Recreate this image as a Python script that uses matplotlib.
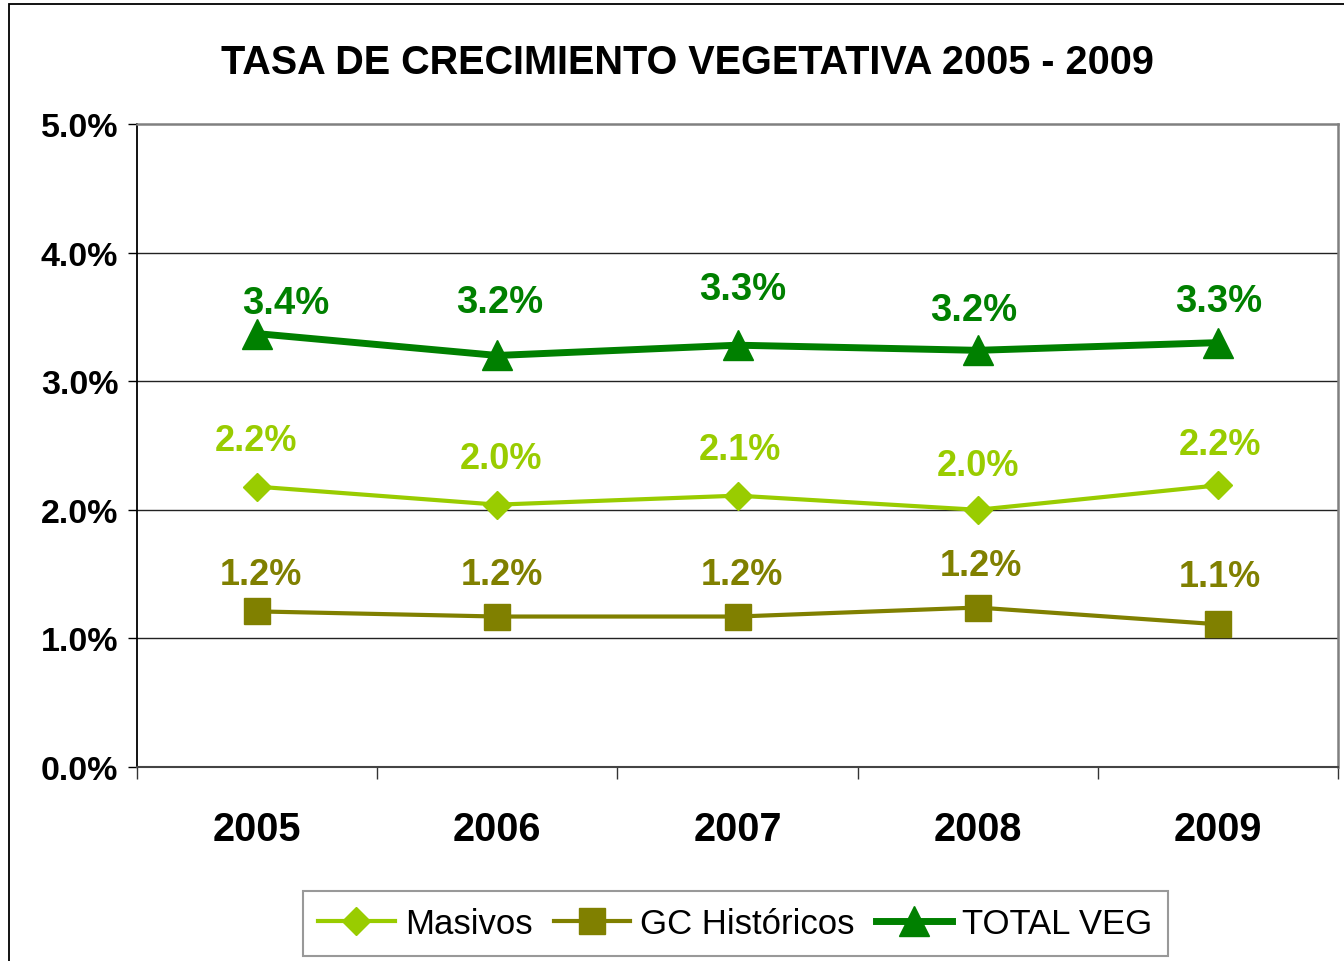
import numpy as np
import matplotlib
matplotlib.use('Agg')
import matplotlib.pyplot as plt
from matplotlib.patches import Rectangle
from matplotlib.ticker import FixedLocator

plt.rcParams['font.family'] = ['Liberation Sans', 'DejaVu Sans']

# data (percent)
years = ['2005', '2006', '2007', '2008', '2009']
masivos = [2.18, 2.04, 2.11, 2.00, 2.19]
gc_historicos = [1.21, 1.17, 1.17, 1.24, 1.11]
total_veg = [3.37, 3.20, 3.28, 3.24, 3.30]

# label offsets in pixels (dx, dy), as placed in the original
off_masivos = [(-1, 46), (4, 46), (2, 46), (0, 44), (2, 41)]
off_gc = [(4, 37), (5, 42), (4, 42), (3, 42), (2, 48)]
off_total = [(29, 31), (2, 53), (5, 56), (-4, 40), (1, 42)]

c_masivos = '#99CC00'
c_gc = '#808000'
c_total = '#008000'

fig = plt.figure(figsize=(13.44, 9.62), dpi=100)
ax = fig.add_axes([137/1344, 1 - 768/962, (1338-137)/1344, (768-125)/962])

x = np.arange(len(years))
ax.plot(x, masivos, color=c_masivos, lw=3, marker='D', ms=14, label='Masivos')
ax.plot(x, gc_historicos, color=c_gc, lw=3, marker='s', ms=19, label='GC Históricos')
ax.plot(x, total_veg, color=c_total, lw=5, marker='^', ms=22, label='TOTAL VEG')

for vals, offs, col, fs in [(masivos, off_masivos, c_masivos, 26),
                            (gc_historicos, off_gc, c_gc, 26),
                            (total_veg, off_total, c_total, 27.5)]:
    for i, v in enumerate(vals):
        ax.annotate(f'{v:.1f}%', (x[i], v), xytext=offs[i], textcoords='offset pixels',
                    ha='center', va='center', fontsize=fs, fontweight='bold', color=col)

ax.set_xlim(-0.5, 4.5)
ax.set_ylim(0, 5)
ax.set_yticks([0, 1, 2, 3, 4, 5])
ax.set_yticklabels([f'{v:.1f}%' for v in [0, 1, 2, 3, 4, 5]], fontsize=24.5, fontweight='bold')
ax.set_xticks(x)
ax.set_xticklabels(years, fontsize=28.5, fontweight='bold')
ax.xaxis.set_minor_locator(FixedLocator(np.arange(-0.5, 5, 1)))
ax.tick_params(axis='x', which='major', length=0, pad=31)
ax.tick_params(axis='x', which='minor', length=8.5, width=1, color='#333333', direction='out')
ax.tick_params(axis='y', length=6.5, width=1, direction='out', pad=7)

for y in [1, 2, 3, 4]:
    ax.axhline(y, color='#222222', lw=1, zorder=0)

ax.spines['left'].set_color('black')
ax.spines['left'].set_linewidth(1.3)
ax.spines['bottom'].set_color('#444444')
ax.spines['bottom'].set_linewidth(1.5)
ax.spines['top'].set_color('#808080')
ax.spines['top'].set_linewidth(1.8)
ax.spines['right'].set_color('#808080')
ax.spines['right'].set_linewidth(1.8)

fig.text(687/1344, 1 - 63/962, 'TASA DE CRECIMIENTO VEGETATIVA 2005 - 2009',
         ha='center', va='center', fontsize=28.5, fontweight='bold')

leg = fig.legend(loc='center', bbox_to_anchor=(735.5/1344, 1 - 924.5/962), ncol=3,
                 fontsize=25, frameon=True, fancybox=False, handlelength=2.2,
                 handletextpad=0.3, columnspacing=0.6, borderpad=0.45)
leg.get_frame().set_edgecolor('#808080')
leg.get_frame().set_linewidth(1.5)

# outer chart border
fig.patches.append(Rectangle((9/1344, -0.05), 1.1, 1 - 5/962 + 0.05,
                             transform=fig.transFigure, fill=False,
                             edgecolor='black', lw=1.3))

fig.savefig('out.png', dpi=100)
